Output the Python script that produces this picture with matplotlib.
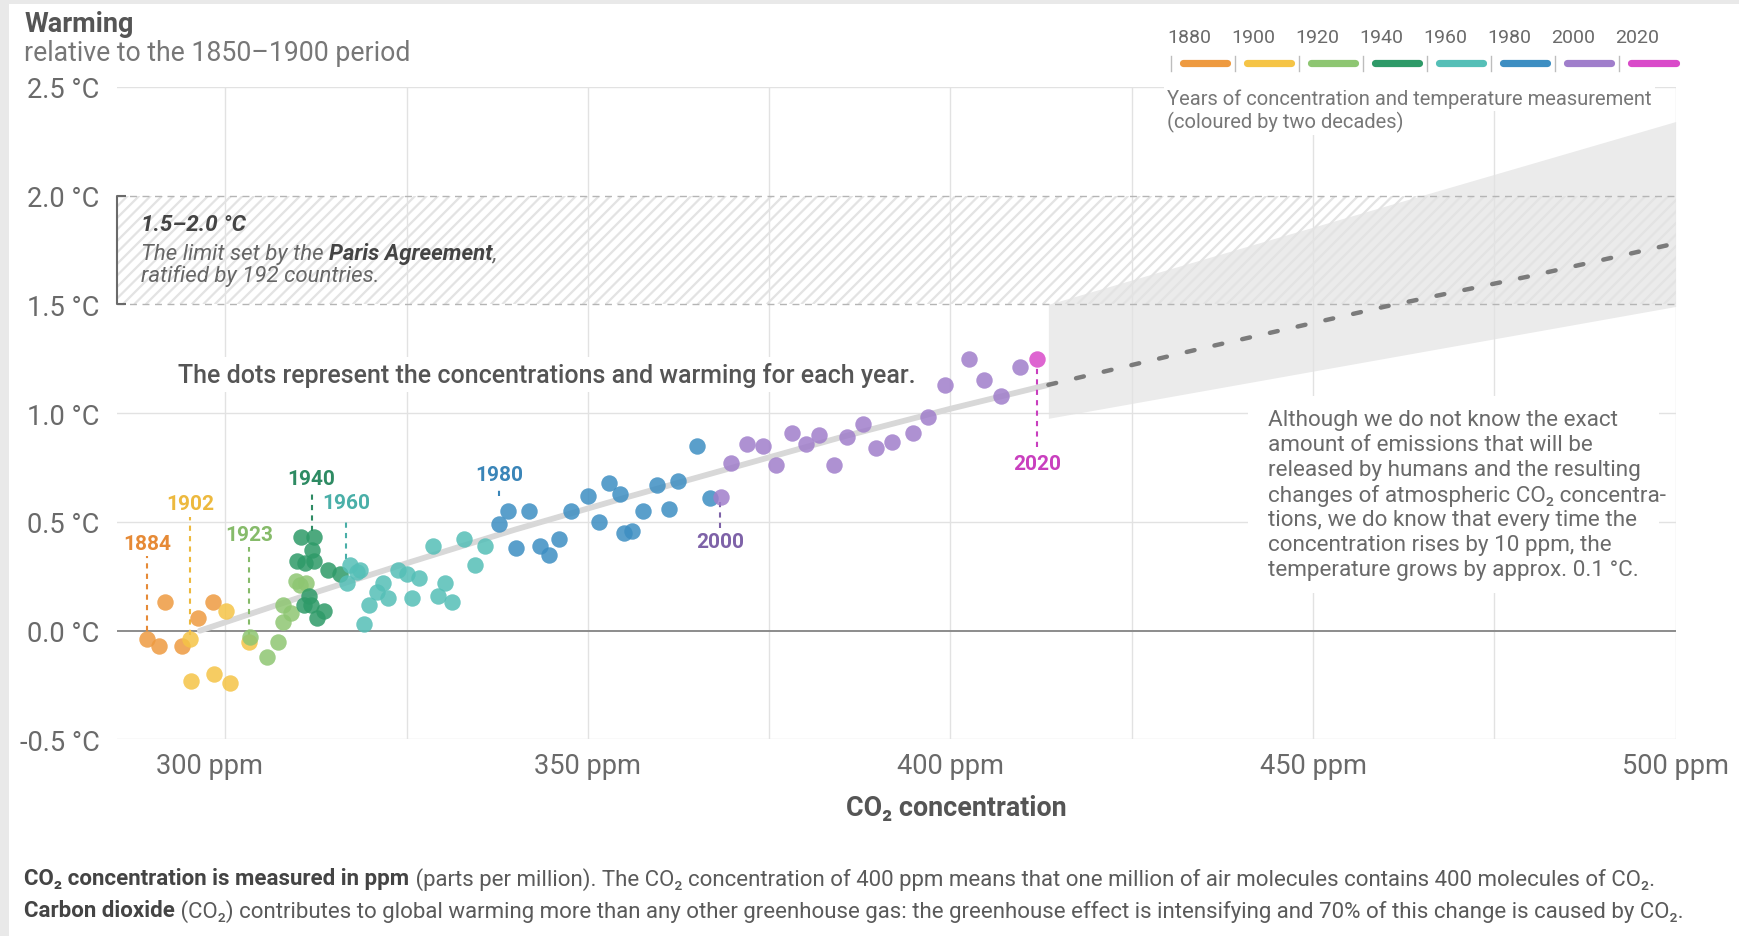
import matplotlib
matplotlib.use('Agg')
import matplotlib.pyplot as plt
from matplotlib.patches import Rectangle
from matplotlib.lines import Line2D
from matplotlib.collections import LineCollection
import matplotlib.transforms as mtransforms
import numpy as np

plt.rcParams['font.family'] = ['Roboto', 'Noto Sans', 'DejaVu Sans']

# ---------------- data ----------------
co2_1880 = [289.2, 290.8, 291.7, 294.0, 296.2, 298.3]
temp_1880 = [-0.04, -0.07, 0.13, -0.07, 0.06, 0.13]

co2_1900 = [295.1, 295.3, 298.5, 300.1, 300.6, 303.3]
temp_1900 = [-0.04, -0.23, -0.20, 0.09, -0.24, -0.05]

co2_1920 = [303.4, 305.7, 307.3, 307.9, 307.9, 309.1, 309.7, 310.3, 311.1]
temp_1920 = [-0.03, -0.12, -0.05, 0.12, 0.04, 0.08, 0.23, 0.21, 0.22]

co2_1940 = [310.4, 312.2, 311.9, 309.9, 311.0, 312.2, 311.6, 310.9, 311.8, 312.6, 313.6, 314.1, 315.8]
temp_1940 = [0.43, 0.43, 0.37, 0.32, 0.31, 0.32, 0.16, 0.12, 0.12, 0.06, 0.09, 0.28, 0.26]

co2_1960 = [317.2, 318.6, 316.8, 318.2, 319.1, 319.8, 320.9, 321.8, 322.5, 323.8,
            325.0, 326.7, 325.7, 328.6, 329.4, 330.3, 331.3, 332.9, 334.5, 335.8]
temp_1960 = [0.30, 0.28, 0.22, 0.27, 0.03, 0.12, 0.18, 0.22, 0.15, 0.28,
             0.26, 0.24, 0.15, 0.39, 0.16, 0.22, 0.13, 0.42, 0.30, 0.39]

co2_1980 = [337.7, 339.0, 340.1, 341.9, 343.4, 344.6, 346.0, 347.7, 350.0, 351.6,
            352.9, 354.4, 355.0, 356.1, 357.6, 359.5, 361.2, 362.4, 365.1, 366.9]
temp_1980 = [0.49, 0.55, 0.38, 0.55, 0.39, 0.35, 0.42, 0.55, 0.62, 0.50,
             0.68, 0.63, 0.45, 0.46, 0.55, 0.67, 0.56, 0.69, 0.85, 0.61]

co2_2000 = [368.3, 369.7, 371.9, 374.2, 376.0, 378.2, 380.1, 381.9, 384.0, 385.8,
            388.0, 389.8, 392.0, 394.8, 396.9, 399.3, 402.5, 404.6, 407.0, 409.6]
temp_2000 = [0.615, 0.77, 0.86, 0.85, 0.76, 0.91, 0.86, 0.90, 0.76, 0.89,
             0.95, 0.84, 0.865, 0.91, 0.98, 1.13, 1.25, 1.15, 1.08, 1.21]

co2_2020 = [412.0]
temp_2020 = [1.25]

# trend (solid grey) and projection (dashed)
trend_co2 = [296.5, 310, 325, 340, 355, 370, 385, 400, 413.5]
trend_temp = [0.0, 0.15, 0.31, 0.465, 0.61, 0.75, 0.89, 1.02, 1.13]
proj_co2 = [413.5, 435, 460, 480, 500]
proj_temp = [1.13, 1.30, 1.49, 1.63, 1.78]
band_co2 = [413.5, 500]
band_low = [0.976, 1.49]
band_high = [1.5, 2.34]

paris_low, paris_high = 1.5, 2.0

legend_years = ['1880', '1900', '1920', '1940', '1960', '1980', '2000', '2020']
group_colors = ['#EE9A40', '#F5C446', '#8EC672', '#2E9A68', '#55BFB7', '#3D8EC2', '#A07ECB', '#D94AC9']
label_colors = ['#E68A36', '#EDB93E', '#86BB6A', '#2E8B63', '#4AAFA8', '#3A85B8', '#7E62A8', '#C93FBE']

label_years = ['1884', '1902', '1923', '1940', '1960', '1980', '2000', '2020']
label_co2 = [289.2, 295.1, 303.3, 311.9, 316.7, 337.8, 368.2, 411.9]
label_group = [0, 1, 2, 3, 4, 5, 6, 7]
label_text_y = [0.40, 0.585, 0.44, 0.70, 0.59, 0.72, 0.41, 0.77]
label_line_top = [0.343, 0.523, 0.385, 0.64, 0.52, 0.657, 0.59, 1.215]
label_line_bot = [0.0, -0.02, -0.02, 0.46, 0.33, 0.62, 0.47, 0.846]

x_grid = [300, 325, 350, 375, 400, 425, 450, 475, 500]
x_ticks = [300, 350, 400, 450, 500]
x_tick_labels = ['300 ppm', '350 ppm', '400 ppm', '450 ppm', '500 ppm']
y_ticks = [-0.5, 0.0, 0.5, 1.0, 1.5, 2.0, 2.5]
y_tick_labels = ['-0.5 °C', '0.0 °C', '0.5 °C', '1.0 °C', '1.5 °C', '2.0 °C', '2.5 °C']

# ---------------- figure ----------------
W, H = 1740, 937
DW, DH = 1568.0, 844.0   # layout measured on a 1568-wide copy
def fx(xd):
    return xd / DW
def fy(yd):
    return 1 - yd / DH

fig = plt.figure(figsize=(W / 100, H / 100), dpi=100)
fig.patch.set_facecolor('white')
fig.add_artist(Rectangle((0, 0), 9 / W, 1, transform=fig.transFigure, color='#e9e9e9', lw=0, zorder=-5))
fig.add_artist(Rectangle((0, 1 - 5 / H), 1, 5 / H, transform=fig.transFigure, color='#e9e9e9', lw=0, zorder=-5))

L, R, T, B = fx(105), fx(1510), fy(79), fy(667)
ax = fig.add_axes([L, B, R - L, T - B])
ax.set_xlim(285, 500)
ax.set_ylim(-0.5, 2.5)
ax.set_facecolor('none')
for s in ax.spines.values():
    s.set_visible(False)

TXT = '#6a6a6a'
ax.set_xticks(x_ticks, x_tick_labels)
ax.set_yticks(y_ticks, y_tick_labels)
ax.tick_params(axis='both', length=0, colors=TXT, labelsize=19.6)
ax.tick_params(axis='x', pad=9)
ax.tick_params(axis='y', pad=12)
# shift first x label slightly left as in the original
lab0 = ax.get_xticklabels()[0]
lab0.set_transform(lab0.get_transform() + mtransforms.ScaledTranslation(-0.16, 0, fig.dpi_scale_trans))

# projection band
ax.fill_between(band_co2, band_low, band_high, color='#ebebeb', lw=0, zorder=0.2)

# grid
GRID = '#e2e2e2'
for xg in x_grid:
    ax.plot([xg, xg], [-0.5, 2.5], color=GRID, lw=1.0, zorder=0.5)
for yg in [-0.5, 0.5, 1.0, 2.5]:
    ax.plot([285, 500], [yg, yg], color=GRID, lw=1.0, zorder=0.5)
ax.plot([285, 500], [0, 0], color='#8c8c8c', lw=1.4, zorder=0.6)

# Paris band hatch (manual diagonal lines)
fig.canvas.draw()
px_per_x = ax.get_window_extent().width / (500 - 285)
px_per_y = ax.get_window_extent().height / 3.0
hgt = paris_high - paris_low
dx = hgt * px_per_y / px_per_x
step = 11.5 / px_per_x
starts = np.arange(285 - dx, 500 + step, step)
segs = [[(s0, paris_low), (s0 + dx, paris_high)] for s0 in starts]
clip = Rectangle((285, paris_low), 215, hgt, transform=ax.transData, fc='none', ec='none')
ax.add_patch(clip)
lc = LineCollection(segs, colors='#e3e3e3', linewidths=1.6, zorder=0.7)
ax.add_collection(lc)
lc.set_clip_path(clip)
for yg in [paris_low, paris_high]:
    ax.plot([285, 500], [yg, yg], color='#b5b5b5', lw=1.0, dashes=(5, 4), zorder=0.8)
cap = 9 / px_per_x
ax.plot([285 + cap, 285, 285, 285 + cap], [paris_high, paris_high, paris_low, paris_low],
        color='#6a6a6a', lw=1.5, zorder=1, clip_on=False, solid_capstyle='butt')

# trend and projection
ax.plot(trend_co2, trend_temp, color='#d8d8d8', lw=4.2, solid_capstyle='round', zorder=2)
ax.plot(proj_co2, proj_temp, color='#7b7b7b', lw=3.2, dashes=(1.8, 4.6),
        dash_capstyle='round', zorder=2)

# dots
groups = [(co2_1880, temp_1880), (co2_1900, temp_1900), (co2_1920, temp_1920),
          (co2_1940, temp_1940), (co2_1960, temp_1960), (co2_1980, temp_1980),
          (co2_2000, temp_2000), (co2_2020, temp_2020)]
for (cx, ty), col in zip(groups, group_colors):
    ax.scatter(cx, ty, s=140, color=col, alpha=0.85, lw=0, zorder=3)

# year labels
for yr, xc, g, tyv, t0, t1 in zip(label_years, label_co2, label_group, label_text_y,
                                  label_line_top, label_line_bot):
    c = label_colors[g]
    ax.plot([xc, xc], [t1, t0], color=c, lw=1.5, dashes=(2.5, 2.5), zorder=2.5)
    ax.text(xc, tyv, yr, ha='center', va='center', color=c, fontsize=15,
            fontweight='bold', zorder=4)

# ---------------- texts ----------------
fig.text(fx(22), fy(22), 'Warming', fontsize=19.5, fontweight='bold', color='#555555',
         va='center', ha='left')
fig.text(fx(22), fy(48), 'relative to the 1850\u20131900 period', fontsize=19.2, color='#777777',
         va='center', ha='left')

fig.text(fx(862), fy(728), 'CO\u2082 concentration', fontsize=19.4, fontweight='bold',
         color='#555555', ha='center', va='center')

renderer = fig.canvas.get_renderer()
def rich(x, y, parts, **kw):
    for txt, props in parts:
        p = dict(kw)
        p.update(props)
        t = fig.text(x, y, txt, va='center', ha='left', **p)
        bb = t.get_window_extent(renderer=renderer)
        x = fig.transFigure.inverted().transform((bb.x1, bb.y0))[0]

# Paris text
fig.text(fx(127), fy(203), '1.5\u20132.0 °C', fontsize=16.2, fontweight='bold', fontstyle='italic',
         color='#444444', va='center', ha='left', zorder=5)
rich(fx(127), fy(229), [('The limit set by the ', {}),
                        ('Paris Agreement', {'fontweight': 'bold', 'color': '#444444'}),
                        (',', {})],
     fontsize=16, fontstyle='italic', color='#666666', zorder=5)
fig.text(fx(127), fy(249), 'ratified by 192 countries.', fontsize=16, fontstyle='italic',
         color='#666666', va='center', ha='left', zorder=5)

# dots caption
fig.text(fx(160), fy(338), 'The dots represent the concentrations and warming for each year.',
         fontsize=18, fontweight='medium', color='#555555', va='center', ha='left', zorder=5,
         bbox=dict(boxstyle='square,pad=0.2', fc='white', ec='none'))

# right annotation (white box hides the grid)
fig.add_artist(Rectangle((fx(1125), fy(535)), fx(1495) - fx(1125), fy(358) - fy(535),
                         transform=fig.transFigure, fc='white', ec='none', zorder=4))
ann_lines = ['Although we do not know the exact',
             'amount of emissions that will be',
             'released by humans and the resulting',
             'changes of atmospheric CO\u2082 concentra-',
             'tions, we do know that every time the',
             'concentration rises by 10 ppm, the',
             'temperature grows by approx. 0.1 °C.']
for i, ln in enumerate(ann_lines):
    fig.text(fx(1143), fy(379 + i * 22.5), ln, fontsize=16.2, color='#6a6a6a',
             va='center', ha='left', zorder=6)

# legend
for i, (yr, col) in enumerate(zip(legend_years, group_colors)):
    tx = 1055 + i * 57.7
    fig.add_artist(Line2D([fx(tx), fx(tx)], [fy(51), fy(65)], transform=fig.transFigure,
                          color='#bdbdbd', lw=1.0, zorder=6))
    fig.add_artist(Line2D([fx(tx + 11), fx(tx + 51)], [fy(58), fy(58)], transform=fig.transFigure,
                          color=col, lw=5.2, solid_capstyle='round', zorder=6))
    fig.text(fx(tx - 3), fy(34), yr, fontsize=14, color='#6a6a6a',
             va='center', ha='left', zorder=6)
fig.text(fx(1052), fy(89), 'Years of concentration and temperature measurement', fontsize=14.5,
         color='#777777', va='center', ha='left', zorder=6,
         bbox=dict(boxstyle='square,pad=0.15', fc='white', ec='none'))
fig.text(fx(1052), fy(110), '(coloured by two decades)', fontsize=14.5,
         color='#777777', va='center', ha='left', zorder=6,
         bbox=dict(boxstyle='square,pad=0.15', fc='white', ec='none'))

# footnote
rich(fx(22), fy(792), [('CO\u2082 concentration is measured in ppm', {'fontweight': 'bold', 'color': '#444444'}),
                       (' (parts per million). The CO\u2082 concentration of 400 ppm means that one million of air molecules contains 400 molecules of CO\u2082.', {})],
     fontsize=16, color='#5a5a5a')
rich(fx(22), fy(821), [('Carbon dioxide', {'fontweight': 'bold', 'color': '#444444'}),
                       (' (CO\u2082) contributes to global warming more than any other greenhouse gas: the greenhouse effect is intensifying and 70% of this change is caused by CO\u2082.', {})],
     fontsize=16, color='#5a5a5a')

fig.savefig('out.png', dpi=100, facecolor='white')
